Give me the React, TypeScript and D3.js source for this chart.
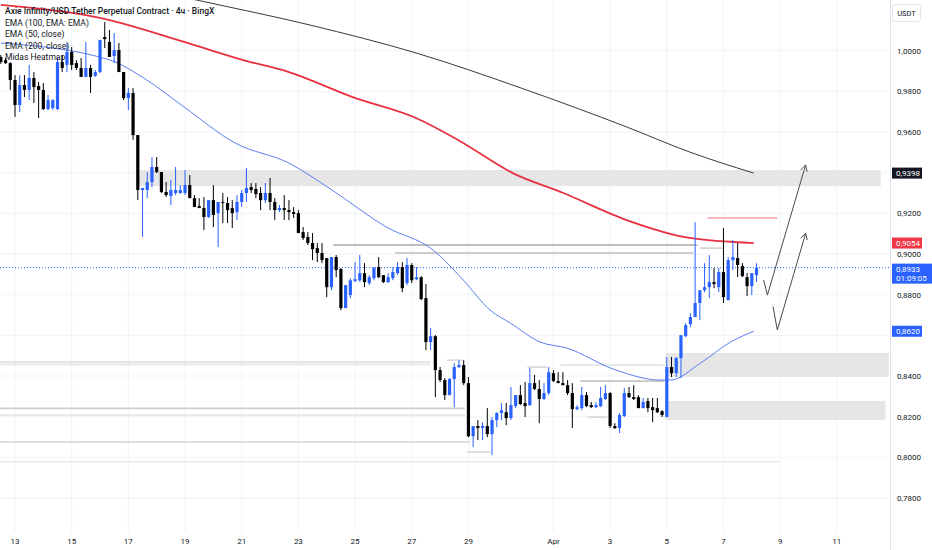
import * as d3 from "d3";

// 4h candles, first bar opens Mar 12 12:00
const candleStart = Date.UTC(2025, 2, 12, 12);
const barMs = 4 * 3600 * 1000;

// [open, high, low, close]
const candles: [number, number, number, number][] = [
  [0.9969, 0.9979, 0.9935, 0.9944], [0.9954, 0.9964, 0.9935, 0.9939], [0.9939, 0.9944, 0.9807, 0.9856],
  [0.9856, 0.988, 0.9674, 0.9733], [0.9733, 0.988, 0.9698, 0.9831], [0.9831, 0.988, 0.9772, 0.9807],
  [0.9807, 0.993, 0.9757, 0.9866], [0.9866, 0.9895, 0.9743, 0.9821], [0.9826, 0.9846, 0.9669, 0.9807],
  [0.9807, 0.9841, 0.9708, 0.9713], [0.9713, 0.9782, 0.9708, 0.9757], [0.9718, 0.9762, 0.9708, 0.9757],
  [0.9713, 0.9969, 0.9708, 0.9944], [0.9944, 0.9979, 0.9895, 0.9915], [0.993, 1.0038, 0.9895, 0.9994],
  [0.9994, 1.0018, 0.9905, 0.993], [0.9939, 0.9954, 0.9905, 0.9915], [0.9915, 0.9964, 0.9871, 0.9871],
  [0.9871, 1.0043, 0.9871, 0.9915], [0.9915, 0.993, 0.9792, 0.9871], [0.9876, 0.9905, 0.9871, 0.9895],
  [0.9895, 1.0053, 0.989, 1.0053], [1.0067, 1.0141, 1.0013, 1.0057], [1.0043, 1.0102, 0.9969, 0.9969],
  [0.9974, 1.0087, 0.9939, 1.0003], [1.0003, 1.0038, 0.9895, 0.9895], [0.9895, 0.9895, 0.9757, 0.9767],
  [0.9767, 0.9816, 0.9708, 0.9792], [0.9792, 0.9816, 0.9562, 0.9585], [0.9585, 0.9585, 0.9265, 0.9315],
  [0.9315, 0.9325, 0.9084, 0.9325], [0.9315, 0.9403, 0.9275, 0.9354], [0.9354, 0.9477, 0.9329, 0.9428],
  [0.9428, 0.9477, 0.9398, 0.9403], [0.9403, 0.9403, 0.93, 0.9305], [0.9305, 0.9354, 0.928, 0.929],
  [0.9285, 0.9364, 0.9241, 0.9315], [0.93, 0.9428, 0.929, 0.9315], [0.93, 0.9339, 0.9295, 0.9315],
  [0.93, 0.9413, 0.929, 0.9339], [0.9339, 0.9388, 0.9275, 0.9275], [0.9275, 0.929, 0.9231, 0.9231],
  [0.9236, 0.9275, 0.9226, 0.9226], [0.9226, 0.928, 0.9118, 0.9182], [0.9182, 0.9265, 0.9177, 0.9265],
  [0.9265, 0.9339, 0.9133, 0.9192], [0.9201, 0.9256, 0.9034, 0.9256], [0.9256, 0.93, 0.9152, 0.9251],
  [0.9251, 0.928, 0.9152, 0.9216], [0.9226, 0.9265, 0.9128, 0.9201], [0.9206, 0.929, 0.9167, 0.9256],
  [0.9256, 0.9315, 0.9231, 0.93], [0.93, 0.9423, 0.9256, 0.9325], [0.9329, 0.9349, 0.93, 0.9315],
  [0.932, 0.9349, 0.9275, 0.9295], [0.93, 0.9329, 0.9216, 0.9265], [0.9265, 0.9349, 0.9251, 0.93],
  [0.93, 0.9374, 0.9216, 0.9256], [0.9256, 0.9275, 0.9167, 0.9216], [0.9216, 0.9241, 0.9206, 0.9226],
  [0.9226, 0.929, 0.9167, 0.9216], [0.9216, 0.9265, 0.9167, 0.9206], [0.9206, 0.9231, 0.9177, 0.9197],
  [0.9201, 0.9216, 0.9103, 0.9103], [0.9108, 0.9133, 0.9069, 0.9079], [0.9084, 0.9108, 0.9044, 0.9054],
  [0.9054, 0.9103, 0.897, 0.9024], [0.9029, 0.9054, 0.896, 0.9005], [0.9005, 0.9054, 0.8955, 0.897],
  [0.898, 0.898, 0.8788, 0.8837], [0.8837, 0.8985, 0.8822, 0.8985], [0.8985, 0.8995, 0.8886, 0.8921],
  [0.8926, 0.8931, 0.8724, 0.8734], [0.8734, 0.8847, 0.8734, 0.8847], [0.8798, 0.8881, 0.8783, 0.8871],
  [0.8867, 0.896, 0.8862, 0.8876], [0.8871, 0.8995, 0.8862, 0.8906], [0.8906, 0.8955, 0.8837, 0.8862],
  [0.8857, 0.8896, 0.8847, 0.8886], [0.8881, 0.8936, 0.8871, 0.8931], [0.8936, 0.8985, 0.8881, 0.8886],
  [0.8896, 0.8896, 0.8857, 0.8862], [0.8862, 0.8906, 0.8857, 0.8886], [0.8881, 0.8936, 0.8871, 0.8911],
  [0.8906, 0.896, 0.8896, 0.8936], [0.8936, 0.896, 0.8812, 0.8832], [0.8857, 0.898, 0.8847, 0.8946],
  [0.8946, 0.8955, 0.8857, 0.8871], [0.8876, 0.8936, 0.8871, 0.8886], [0.8886, 0.8891, 0.8773, 0.8778],
  [0.8783, 0.8852, 0.8527, 0.8567], [0.8567, 0.8636, 0.8527, 0.8596], [0.8596, 0.8601, 0.8296, 0.8429],
  [0.8429, 0.8444, 0.837, 0.838], [0.838, 0.839, 0.8282, 0.8306], [0.8306, 0.839, 0.8306, 0.8385],
  [0.8385, 0.8463, 0.8247, 0.8444], [0.8444, 0.8478, 0.8439, 0.8454], [0.8454, 0.8478, 0.8355, 0.8365],
  [0.8365, 0.8395, 0.8099, 0.8104], [0.8104, 0.8154, 0.805, 0.8154], [0.8154, 0.8183, 0.8085, 0.8144],
  [0.8144, 0.8173, 0.8085, 0.8154], [0.8154, 0.8242, 0.8099, 0.8114], [0.8114, 0.8198, 0.8011, 0.8183],
  [0.8183, 0.8222, 0.8149, 0.8218], [0.8218, 0.8267, 0.8183, 0.8232], [0.8222, 0.8267, 0.8158, 0.8193],
  [0.8193, 0.8346, 0.8183, 0.8257], [0.8252, 0.8306, 0.8242, 0.8306], [0.8306, 0.8355, 0.8257, 0.8262],
  [0.8267, 0.837, 0.8198, 0.8252], [0.8257, 0.8439, 0.8252, 0.8365], [0.8365, 0.8405, 0.8331, 0.8336],
  [0.8336, 0.838, 0.8168, 0.8287], [0.8287, 0.8365, 0.8282, 0.8316], [0.8316, 0.8444, 0.8306, 0.8419],
  [0.8414, 0.8429, 0.837, 0.8375], [0.8375, 0.8419, 0.8365, 0.8365], [0.8365, 0.8419, 0.8355, 0.8355],
  [0.8355, 0.838, 0.8306, 0.8316], [0.8316, 0.8365, 0.8144, 0.8237], [0.8237, 0.8257, 0.8232, 0.8247],
  [0.8242, 0.8346, 0.8232, 0.8306], [0.8306, 0.8321, 0.8247, 0.8252], [0.8257, 0.8272, 0.8242, 0.8247],
  [0.8247, 0.8272, 0.8242, 0.8257], [0.8252, 0.8346, 0.8247, 0.8292], [0.8287, 0.8355, 0.8282, 0.8316],
  [0.8316, 0.8321, 0.8144, 0.8154], [0.8154, 0.8168, 0.8139, 0.8144], [0.8144, 0.8218, 0.8119, 0.8208],
  [0.8203, 0.8341, 0.8198, 0.8316], [0.8316, 0.8346, 0.8292, 0.8296], [0.8296, 0.8355, 0.8282, 0.8287],
  [0.8296, 0.8306, 0.8242, 0.8242], [0.8242, 0.8292, 0.8242, 0.8272], [0.8277, 0.8292, 0.8222, 0.8242],
  [0.8247, 0.8292, 0.8173, 0.8232], [0.8242, 0.8292, 0.8218, 0.8222], [0.8227, 0.8232, 0.8198, 0.8208],
  [0.8198, 0.8493, 0.8198, 0.8444], [0.8444, 0.8493, 0.8395, 0.8414], [0.8414, 0.8493, 0.8395, 0.8488],
  [0.8488, 0.8601, 0.839, 0.8601], [0.8596, 0.866, 0.8591, 0.865], [0.8655, 0.8709, 0.864, 0.869],
  [0.869, 0.9157, 0.869, 0.8759], [0.8759, 0.8822, 0.8675, 0.8822], [0.8822, 0.8955, 0.8812, 0.8837],
  [0.8837, 0.8995, 0.8783, 0.8862], [0.8862, 0.8931, 0.8832, 0.8852], [0.8837, 0.8931, 0.8812, 0.8911],
  [0.8911, 0.9128, 0.8759, 0.8788], [0.8773, 0.8985, 0.8773, 0.897], [0.897, 0.9069, 0.8921, 0.8985],
  [0.898, 0.9054, 0.8886, 0.8946], [0.8941, 0.8955, 0.8886, 0.8891], [0.8886, 0.8906, 0.8793, 0.8842],
  [0.8842, 0.8906, 0.8798, 0.8906], [0.8896, 0.8955, 0.8862, 0.8933],
];

// moving averages: [bar index, price]
const ema50: [number, number][] = [
  [0, 1.0038], [23.1, 0.9954], [29.9, 0.9871], [38.8, 0.9723], [49.6, 0.9546], [61, 0.9447],
  [70.1, 0.9315], [81.6, 0.9133], [91.5, 0.902], [97.9, 0.8872], [103.6, 0.8724], [107.9, 0.866],
  [114.2, 0.8567], [119.9, 0.8537], [129.7, 0.8434], [139.7, 0.838], [141.8, 0.838], [148.1, 0.8463],
  [154.5, 0.8567], [159.4, 0.862],
];
const ema100: [number, number][] = [
  [0, 1.0225], [21, 1.0161], [38.8, 1.0043], [51.3, 0.9954], [61, 0.9895], [74.5, 0.9772],
  [87.9, 0.9669], [96.8, 0.9561], [108.4, 0.9398], [119.1, 0.93], [132.5, 0.9167], [145.8, 0.9079],
  [159.4, 0.9054],
];
const ema200: [number, number][] = [
  [21, 1.0353], [41.5, 1.0249], [65.5, 1.0126], [87.9, 0.9989], [110.2, 0.9816], [132.5, 0.9625],
  [145.8, 0.9502], [159.4, 0.9398],
];

// heatmap zones: [from bar, to bar, top price, bottom price]
const zones: [number, number, number, number][] = [
  [29.1, 186.3, 0.9413, 0.9334],
  [140.7, 188, 0.8513, 0.8395],
  [140.7, 187.3, 0.8277, 0.8183],
];
// heatmap levels: [from bar, to bar, price, colour]
const levels: [number, number, number, string][] = [
  [70.4, 147.5, 0.9044, "#a9a9a9"],
  [83.5, 146.6, 0.9005, "#bdbdbd"],
  [148.1, 152.8, 0.9029, "#cfcfcf"],
  [-1, 90.9, 0.8469, "#dcdcdc"],
  [-1, 90.9, 0.8457, "#e6e6e6"],
  [-1, 98.3, 0.8241, "#cdcdcd"],
  [-1, 98.3, 0.8208, "#e2e2e2"],
  [-1, 99.4, 0.8076, "#dadada"],
  [-1, 164.7, 0.7978, "#ececec"],
  [122.7, 140.5, 0.8375, "#c4c4c4"],
  [118.5, 140.3, 0.8454, "#e0e0e0"],
  [98.8, 103.7, 0.8026, "#d8d8d8"],
  [94.5, 97.7, 0.8478, "#d8d8d8"],
  [111.5, 115.7, 0.8444, "#d8d8d8"],
  [124.2, 128.4, 0.8198, "#d8d8d8"],
];
const redLevel: [number, number, number] = [149.6, 164.4, 0.9177];

// hand-drawn projection arrows
const arrowA: [number, number][] = [[161.5, 0.8872], [162.3, 0.8798], [170.4, 0.9438]];
const arrowB: [number, number][] = [[163.5, 0.8742], [164.4, 0.8626], [170.4, 0.9102]];

const priceTicks = [1.0, 0.98, 0.96, 0.94, 0.92, 0.9, 0.88, 0.86, 0.84, 0.82, 0.8, 0.78];
const hiddenPriceLabels = [0.94, 0.86];

const dateTicks = [
  "2025-03-13", "2025-03-15", "2025-03-17", "2025-03-19", "2025-03-21", "2025-03-23", "2025-03-25",
  "2025-03-27", "2025-03-29", "2025-04-01", "2025-04-03", "2025-04-05", "2025-04-07", "2025-04-09",
  "2025-04-11", "2025-04-13",
];
const dateLabels = ["13", "15", "17", "19", "21", "23", "25", "27", "29", "Apr", "3", "5", "7", "9", "11", "13"];

const legendLines = [
  "Axie Infinity/USD Tether Perpetual Contract · 4ч · BingX",
  "EMA (100, EMA: EMA)",
  "EMA (50, close)",
  "EMA (200, close)",
  "Midas Heatmap",
];

const lastPrice = 0.8933;
const countdown = "01:09:05";

const W = 932;
const H = 550;
const plotR = 890;
const plotB = 532;
const FONT = "Roboto, 'Noto Sans', sans-serif";
const BLUE = "#2962ff";
const INK = "#131722";

export default function App() {
  const x = d3
    .scaleUtc()
    .domain([new Date(Date.UTC(2025, 2, 13)), new Date(Date.UTC(2025, 3, 13))])
    .range([15, 893.5]);
  const y = d3.scaleLinear().domain([0.78, 1.0]).range([498, 50.7]);
  const xi = (i: number) => x(new Date(candleStart + i * barMs));
  const fmt = (v: number) => d3.format(".4f")(v).replace(".", ",");

  const line = d3
    .line<[number, number]>()
    .x((d) => xi(d[0]))
    .y((d) => y(d[1]))
    .curve(d3.curveMonotoneX);
  const poly = d3
    .line<[number, number]>()
    .x((d) => xi(d[0]))
    .y((d) => y(d[1]));

  const arrowHead = (pts: [number, number][]) => {
    const a = pts[pts.length - 2];
    const b = pts[pts.length - 1];
    const bx = xi(b[0]);
    const by = y(b[1]);
    const ang = Math.atan2(by - y(a[1]), bx - xi(a[0]));
    const len = 7;
    const p1 = [bx - len * Math.cos(ang - 0.5), by - len * Math.sin(ang - 0.5)];
    const p2 = [bx - len * Math.cos(ang + 0.5), by - len * Math.sin(ang + 0.5)];
    return `M${p1[0]},${p1[1]}L${bx},${by}L${p2[0]},${p2[1]}`;
  };

  const bodyW = 3.2;

  return (
    <div style={{ position: "absolute", left: 0, top: 0 }}>
      <svg width={W} height={H} style={{ display: "block", background: "#fff", fontFamily: FONT }}>
        <defs>
          <clipPath id="plot">
            <rect x={0} y={0} width={plotR} height={plotB} />
          </clipPath>
        </defs>

        {/* grid */}
        <g>
          {priceTicks.map((p) => (
            <line key={p} x1={0} x2={plotR} y1={y(p)} y2={y(p)} stroke="#f0f3fa" strokeWidth={1} />
          ))}
          {dateTicks.map((d) => {
            const gx = x(new Date(d + "T00:00:00Z"));
            return <line key={d} x1={gx} x2={gx} y1={0} y2={plotB} stroke="#f0f3fa" strokeWidth={1} />;
          })}
        </g>

        <g clipPath="url(#plot)">
          {/* heatmap zones & levels */}
          {zones.map(([a, b, t, bt], k) => (
            <rect key={k} x={xi(a)} y={y(t)} width={xi(b) - xi(a)} height={y(bt) - y(t)} fill="#e6e6e6" />
          ))}
          {levels.map(([a, b, p, c], k) => (
            <line key={k} x1={xi(a)} x2={xi(b)} y1={y(p)} y2={y(p)} stroke={c} strokeWidth={1.6} />
          ))}
          <line
            x1={xi(redLevel[0])}
            x2={xi(redLevel[1])}
            y1={y(redLevel[2])}
            y2={y(redLevel[2])}
            stroke="#f5a3aa"
            strokeWidth={1.5}
          />

          {/* EMAs */}
          <path d={line(ema200) || ""} fill="none" stroke="#3a3a3a" strokeWidth={1} />
          <path d={line(ema100) || ""} fill="none" stroke="#e8313f" strokeWidth={1.8} />
          <path d={line(ema50) || ""} fill="none" stroke="#5a80ef" strokeWidth={1} />

          {/* current price line */}
          <line
            x1={0}
            x2={plotR}
            y1={y(lastPrice)}
            y2={y(lastPrice)}
            stroke={BLUE}
            strokeWidth={1}
            strokeDasharray="1 2"
          />

          {/* candles */}
          {candles.map(([o, h, l, c], i) => {
            const cx = xi(i);
            const up = c >= o;
            const col = up ? BLUE : "#000";
            const top = y(Math.max(o, c));
            const bh = Math.max(1, y(Math.min(o, c)) - top);
            return (
              <g key={i}>
                <line x1={cx} x2={cx} y1={y(h)} y2={y(l)} stroke={col} strokeWidth={1} />
                <rect x={cx - bodyW / 2} y={top} width={bodyW} height={bh} fill={col} />
              </g>
            );
          })}

          {/* projection arrows */}
          {[arrowA, arrowB].map((pts, k) => (
            <g key={k} fill="none" stroke="#4a4a4a" strokeWidth={1}>
              <path d={poly(pts) || ""} />
              <path d={arrowHead(pts)} />
            </g>
          ))}
        </g>

        {/* legend */}
        <g fill={INK} fontSize={8.5}>
          {legendLines.map((t, k) => (
            <text key={k} x={5} y={14 + k * 11.5} fontWeight={k === 0 ? 500 : 400}>
              {t}
            </text>
          ))}
        </g>

        {/* time axis */}
        <g fill={INK} fontSize={8} textAnchor="middle">
          {dateTicks.map((d, k) => (
            <text key={d} x={x(new Date(d + "T00:00:00Z"))} y={544}>
              {dateLabels[k]}
            </text>
          ))}
        </g>

        {/* price axis panel */}
        <rect x={plotR} y={0} width={W - plotR} height={H} fill="#fff" />
        <line x1={plotR + 0.5} x2={plotR + 0.5} y1={0} y2={H} stroke="#e0e3eb" />
        <rect x={892.5} y={4.5} width={28} height={17} rx={3} fill="#fff" stroke="#e0e3eb" />
        <text x={906.5} y={16} fontSize={7.5} fill={INK} textAnchor="middle">
          USDT
        </text>
        <g fill={INK} fontSize={8}>
          {priceTicks
            .filter((p) => !hiddenPriceLabels.includes(p))
            .map((p) => (
              <text key={p} x={897} y={y(p) + 3}>
                {fmt(p)}
              </text>
            ))}
        </g>

        {/* indicator price labels */}
        {[
          { v: ema200[ema200.length - 1][1], bg: "#131722" },
          { v: ema100[ema100.length - 1][1], bg: "#f23645" },
          { v: ema50[ema50.length - 1][1], bg: BLUE },
        ].map(({ v, bg }) => (
          <g key={v}>
            <rect x={892} y={y(v) - 5.5} width={30} height={11} fill={bg} />
            <text x={896} y={y(v) + 3} fontSize={8} fill="#fff">
              {fmt(v)}
            </text>
          </g>
        ))}
        <rect x={892} y={y(lastPrice) - 4} width={40} height={20} fill={BLUE} />
        <text x={896} y={y(lastPrice) + 4} fontSize={8} fill="#fff">
          {fmt(lastPrice)}
        </text>
        <text x={896} y={y(lastPrice) + 13.5} fontSize={8} fill="#fff">
          {countdown}
        </text>
      </svg>
    </div>
  );
}
